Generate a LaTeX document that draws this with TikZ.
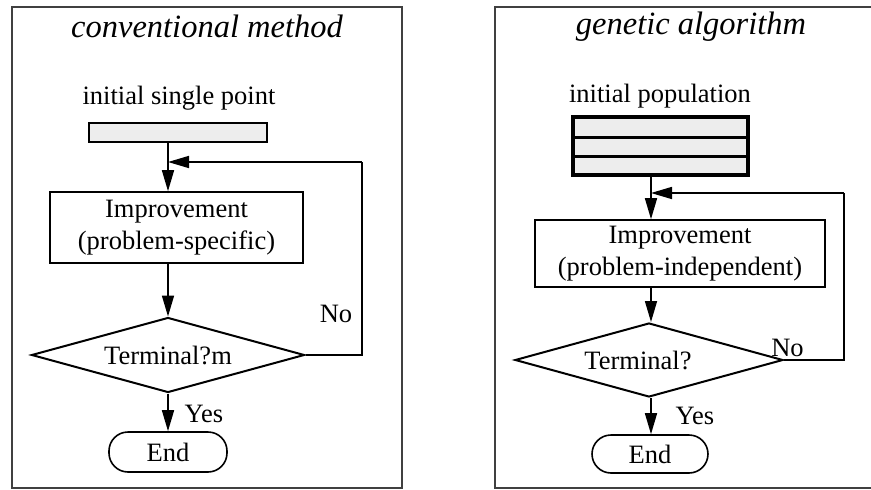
\documentclass[tikz,border=0pt]{standalone}
\usepackage{fontspec}
\setmainfont{Liberation Serif}
\usetikzlibrary{shapes.geometric,arrows.meta}
\begin{document}
\begin{tikzpicture}[x=1pt,y=-1pt,
  txt/.style={font=\fontsize{26.5pt}{32pt}\selectfont, inner sep=0pt},
  ttl/.style={font=\fontsize{32.5pt}{36pt}\selectfont\itshape, inner sep=0pt},
  frame/.style={draw=black!75, line width=1.1pt},
  proc/.style={txt, draw, line width=1.6pt, align=center},
  decide/.style={txt, draw, diamond, shape aspect=3.6, line width=2pt, inner sep=0pt},
  term/.style={txt, draw, line width=1.6pt, rounded corners=19pt},
  flow/.style={line width=1.6pt, -{Triangle[length=21pt,width=12pt]}},
  wire/.style={line width=1.6pt}
]
\useasboundingbox (0,0) rectangle (871,490);

% ---------- conventional method ----------
\draw[frame] (12,7) rectangle (402,488);
\node[ttl] (tL) at (207,26) {conventional method};
\node[txt] (lblL) at (179,98) {initial single point};
\node[draw, line width=1.5pt, fill=black!7, minimum width=178pt, minimum height=19pt, inner sep=0pt] (bar) at (178,132.5) {};
\node[proc, minimum width=253pt, minimum height=71pt] (impL) at (176.5,227.5) {Improvement\\(problem-specific)};
\node[decide, minimum width=273pt, minimum height=75pt] (decL) at (168,355) {Terminal?m};
\node[term, minimum width=118pt, minimum height=40pt] (endL) at (168,452) {End};
\node[txt] (noL) at (336,314) {No};
\node[txt] (yesL) at (204,414) {Yes};

\coordinate (axL) at (168,0);
\coordinate (loopL) at (362,0);
\draw[flow] (axL |- bar.south) -- (axL |- impL.north);
\draw[flow] (axL |- impL.south) -- (axL |- decL.north);
\draw[flow] (axL |- decL.south) -- (axL |- endL.north);
\draw[wire] (decL.east) -- (loopL |- decL.east) -- (loopL |- 0,162);
\draw[flow] (loopL |- 0,162) -- (axL |- 0,162);

% ---------- genetic algorithm ----------
\draw[frame] (871,7) -- (495,7) -- (495,488) -- (871,488);
\node[ttl] (tR) at (691,27) {genetic algorithm};
\node[txt] (lblR) at (660,96) {initial population};
\node[draw, line width=3.5pt, fill=black!7, minimum width=175pt, minimum height=58pt, inner sep=0pt] (pop) at (660.5,146) {};
\draw[line width=3pt] (pop.west |- 0,137) -- (pop.east |- 0,137);
\draw[line width=3pt] (pop.west |- 0,156) -- (pop.east |- 0,156);
\node[proc, minimum width=290pt, minimum height=67pt] (impR) at (680,253.5) {Improvement\\(problem-independent)};
\node[decide, minimum width=268pt, minimum height=74pt] (decR) at (649,360) {};
\node[txt] (qR) at (638,360) {Terminal?};
\node[term, minimum width=116pt, minimum height=38pt] (endR) at (650,454) {End};
\node[txt] (noR) at (787.5,348) {No};
\node[txt] (yesR) at (695,416) {Yes};

\coordinate (axR) at (651,0);
\coordinate (loopR) at (844,0);
\draw[flow] (axR |- pop.south) -- (axR |- impR.north);
\draw[flow] (axR |- impR.south) -- (axR |- decR.north);
\draw[flow] (axR |- decR.south) -- (axR |- endR.north);
\draw[wire] (decR.east) -- (loopR |- decR.east) -- (loopR |- 0,193);
\draw[flow] (loopR |- 0,193) -- (axR |- 0,193);
\end{tikzpicture}
\end{document}
